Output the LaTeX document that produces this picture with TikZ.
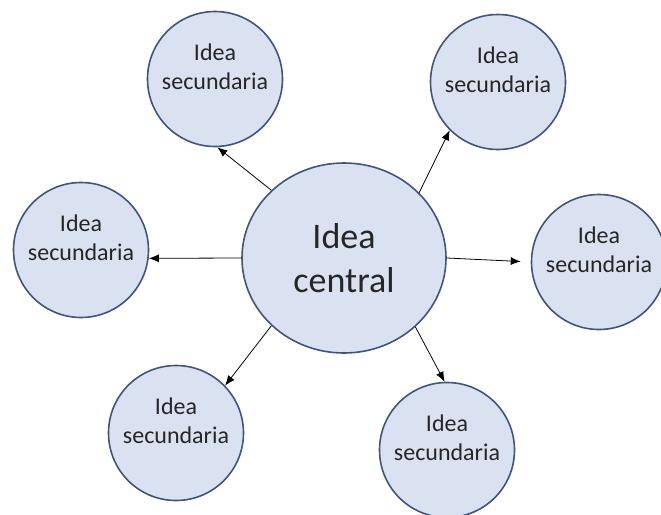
\documentclass[tikz,border=0pt]{standalone}
\usepackage{fontspec}
\setmainfont{Carlito}
\usetikzlibrary{shapes.geometric,arrows.meta}

\definecolor{ideafill}{RGB}{218,226,242}
\definecolor{ideaedge}{RGB}{64,84,128}

\tikzset{
	central/.style={ellipse,draw=ideaedge,fill=ideafill,line width=1.6pt,
		minimum width=204pt,minimum height=190pt,inner sep=0pt,align=center,
		font=\fontsize{36}{44}\selectfont,text=black!85},
	secondary/.style={circle,draw=ideaedge,fill=ideafill,line width=1.6pt,
		minimum size=135pt,inner sep=0pt,align=center,text depth=24pt,
		font=\fontsize{24}{29}\selectfont,text=black!85},
	link/.style={->,line width=0.8pt}
}

\begin{document}
\begin{tikzpicture}[x=1pt,y=-1pt,>={Latex[length=10pt,width=8pt]}]
\useasboundingbox (0,0) rectangle (661,514);

% centre and the six ideas around it
\node[central] (main) at (344,258) {Idea\\central};
\node[secondary] (nw) at (215,79) {Idea\\secundaria};
\node[secondary] (ne) at (498,82) {Idea\\secundaria};
\node[secondary] (w) at (81,250) {Idea\\secundaria};
\node[secondary] (e) at (599,262) {Idea\\secundaria};
\node[secondary] (sw) at (176,433) {Idea\\secundaria};
\node[secondary] (se) at (447,450) {Idea\\secundaria};

% arrows out of the centre
\foreach \n/\a/\b in {nw/137.5/272, ne/41.7/225, w/180/353, sw/223.4/44.4, se/316.6/92}
	{\draw[link] (main.\a) -- (\n.\b);
	};
\draw[link,shorten >=10pt] (main.0) -- (e.180);
\end{tikzpicture}
\end{document}
